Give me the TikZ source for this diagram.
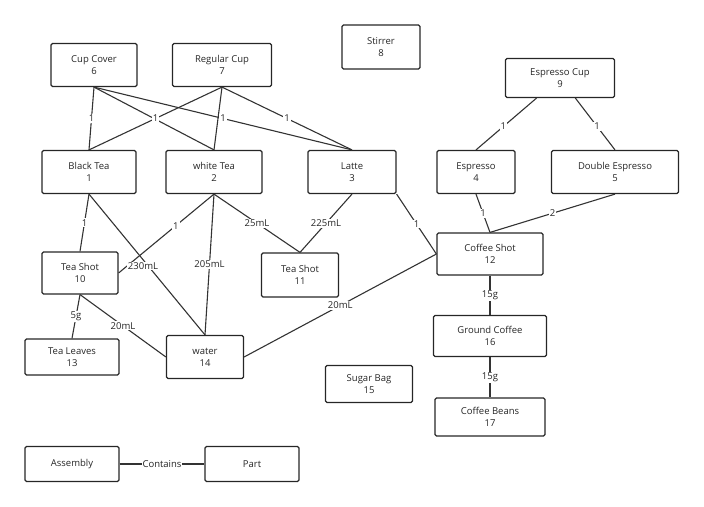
\documentclass[tikz,border=0pt]{standalone}
\usepackage{fontspec}
\setmainfont{Open Sans}
\begin{document}
\begin{tikzpicture}[x=1pt,y=-1pt,
 box/.style={draw=black!85,line width=1.2pt,rounded corners=1.5pt,align=center,inner sep=0pt,font=\fontsize{9.5}{12}\selectfont,text=black!85},
 e/.style={draw=black!80,line width=1.1pt},
 lab/.style={fill=white,inner sep=1pt,font=\fontsize{9.5}{11}\selectfont,text=black!85}]
\useasboundingbox (0,0) rectangle (704,506);
\node[box,minimum width=86pt,minimum height=43pt] (n6) at (94,65) {Cup Cover\\6};
\node[box,minimum width=99pt,minimum height=43pt] (n7) at (222,65) {Regular Cup\\7};
\node[box,minimum width=78pt,minimum height=44pt] (n8) at (381,47) {Stirrer\\8};
\node[box,minimum width=109pt,minimum height=39pt] (n9) at (560,78) {Espresso Cup\\9};
\node[box,minimum width=94pt,minimum height=43pt] (n1) at (89,172) {Black Tea\\1};
\node[box,minimum width=96pt,minimum height=43pt] (n2) at (214,172) {white Tea\\2};
\node[box,minimum width=88pt,minimum height=43pt] (n3) at (352,172) {Latte\\3};
\node[box,minimum width=78pt,minimum height=43pt] (n4) at (476,172) {Espresso\\4};
\node[box,minimum width=127pt,minimum height=43pt] (n5) at (615,172) {Double Espresso\\5};
\node[box,minimum width=106pt,minimum height=42pt] (n12) at (490,254) {Coffee Shot\\12};
\node[box,minimum width=76pt,minimum height=42pt] (n10) at (80,273) {Tea Shot\\10};
\node[box,minimum width=77pt,minimum height=44pt] (n11) at (300,275) {Tea Shot\\11};
\node[box,minimum width=94pt,minimum height=36pt] (n13) at (72,357) {Tea Leaves\\13};
\node[box,minimum width=77pt,minimum height=43pt] (n14) at (205,357) {water\\14};
\node[box,minimum width=87pt,minimum height=37pt] (n15) at (369,384) {Sugar Bag\\15};
\node[box,minimum width=113pt,minimum height=41pt] (n16) at (490,336) {Ground Coffee\\16};
\node[box,minimum width=110pt,minimum height=38pt] (n17) at (490,417) {Coffee Beans\\17};
\node[box,minimum width=94pt,minimum height=35pt] (as) at (72,464) {Assembly};
\node[box,minimum width=94pt,minimum height=35pt] (pt) at (252,464) {Part};

\draw[e] (n6.south) -- (n1.north) node[lab,pos=0.5]{1};
\draw[e] (n6.south) -- (n2.north);
\draw[e] (n7.south) -- (n1.north) node[lab,pos=0.5]{1};
\draw[e] (n7.south) -- (n2.north);
\draw[e] (n6.south) -- (n3.north) node[lab,pos=0.5]{1};
\draw[e] (n7.south) -- (n3.north) node[lab,pos=0.5]{1};
\draw[e] (n9) -- (n4.north) node[lab,pos=0.55]{1};
\draw[e] (n9) -- (n5.north) node[lab,pos=0.55]{1};
\draw[e] (n4.south) -- (n12.north) node[lab,pos=0.5]{1};
\draw[e] (n5.south) -- (n12.north) node[lab,pos=0.5]{2};
\draw[e] (n1.south) -- (n10.north) node[lab,pos=0.5]{1};
\draw[e] (n1.south) -- (n14.north);
\draw[e] (n2.south) -- (n10.east) node[lab,pos=0.4]{1};
\draw[e] (n2.south) -- (n14.north) node[lab,pos=0.5]{205mL};
\draw[e] (n2.south) -- (n11.north) node[lab,pos=0.5]{25mL};
\draw[e] (n3.south) -- (n11.north) node[lab,pos=0.5]{225mL};
\draw[e] (n3.south east) -- (n12.west) node[lab,pos=0.5]{1};
\draw[e] (n10.south) -- (n13.north) node[lab,pos=0.5]{5g};
\draw[e] (n10.south) -- (n14.west) node[lab,pos=0.5]{20mL};
\draw[e] (n12.west) -- (n14.east) node[lab,pos=0.5]{20mL};
\draw[e] (n12) -- (n16) node[lab,pos=0.5]{15g};
\draw[e] (n16) -- (n17) node[lab,pos=0.5]{15g};
\draw[e] (as) -- (pt) node[lab,pos=0.5]{Contains};
\node[lab] (l230) at (143,266) {230mL};
\end{tikzpicture}
\end{document}
